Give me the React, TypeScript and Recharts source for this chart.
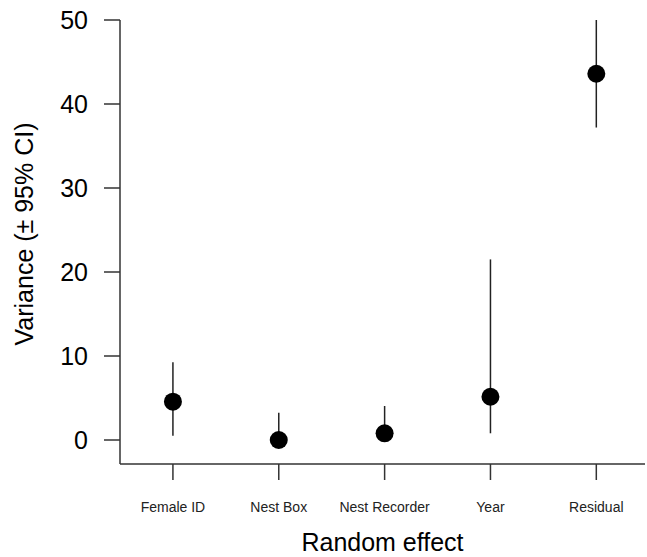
import { ComposedChart, Scatter, ErrorBar, XAxis, YAxis, Label } from "recharts";

const effects = ["Female ID", "Nest Box", "Nest Recorder", "Year", "Residual"];
const variance = [4.56, 0, 0.8, 5.15, 43.6];
const ciLow = [0.5, 0, 0, 0.8, 37.2];
const ciHigh = [9.25, 3.25, 4.05, 21.5, 50];
const yTicks = [0, 10, 20, 30, 40, 50];

const data = effects.map((name, i) => ({
  pos: i + 1,
  name,
  value: variance[i],
  err: [variance[i] - ciLow[i], ciHigh[i] - variance[i]],
}));

const FONT = "'Liberation Sans', Arial, Helvetica, sans-serif";
const AXIS = "#333";

const Dot = (props: any) => <circle cx={props.cx} cy={props.cy} r={9} fill="#000" />;

const yTitle = (props: any) => {
  const vb = props.viewBox;
  const cy = vb.y + vb.height / 2 - 8;
  return (
    <text x={33} y={cy} transform={`rotate(-90, 33, ${cy})`} textAnchor="middle" fontSize={25} fontFamily={FONT} fill="#000">
      Variance (± 95% CI)
    </text>
  );
};

export default function App() {
  return (
    <div style={{ position: "absolute", left: 0, top: 0, background: "#fff" }}>
      <ComposedChart width={647} height={557} data={data} margin={{ top: 20, right: 2, bottom: 0, left: 0 }}>
        <XAxis
          type="number"
          dataKey="pos"
          domain={[0.5, 5.46]}
          ticks={[1, 2, 3, 4, 5]}
          tickFormatter={(v) => effects[v - 1]}
          height={93}
          tickSize={16}
          tickMargin={22}
          stroke={AXIS}
          strokeWidth={1.5}
          tick={{ fontSize: 14, fontFamily: FONT, fill: "#222" }}
          allowDataOverflow
        >
          <Label value="Random effect" position="insideBottom" offset={6} style={{ fontSize: 25, fontFamily: FONT, fill: "#000" }} />
        </XAxis>
        <YAxis
          type="number"
          dataKey="value"
          domain={[-2.857, 50]}
          ticks={yTicks}
          width={120}
          tickSize={16}
          tickMargin={16}
          stroke={AXIS}
          strokeWidth={1.5}
          tick={{ fontSize: 25, fontFamily: FONT, fill: "#000" }}
          allowDataOverflow
          label={yTitle}
        />
        <Scatter dataKey="value" shape={Dot} isAnimationActive={false}>
          <ErrorBar dataKey="err" direction="y" width={0} stroke="#222" strokeWidth={1.5} isAnimationActive={false} />
        </Scatter>
      </ComposedChart>
    </div>
  );
}
